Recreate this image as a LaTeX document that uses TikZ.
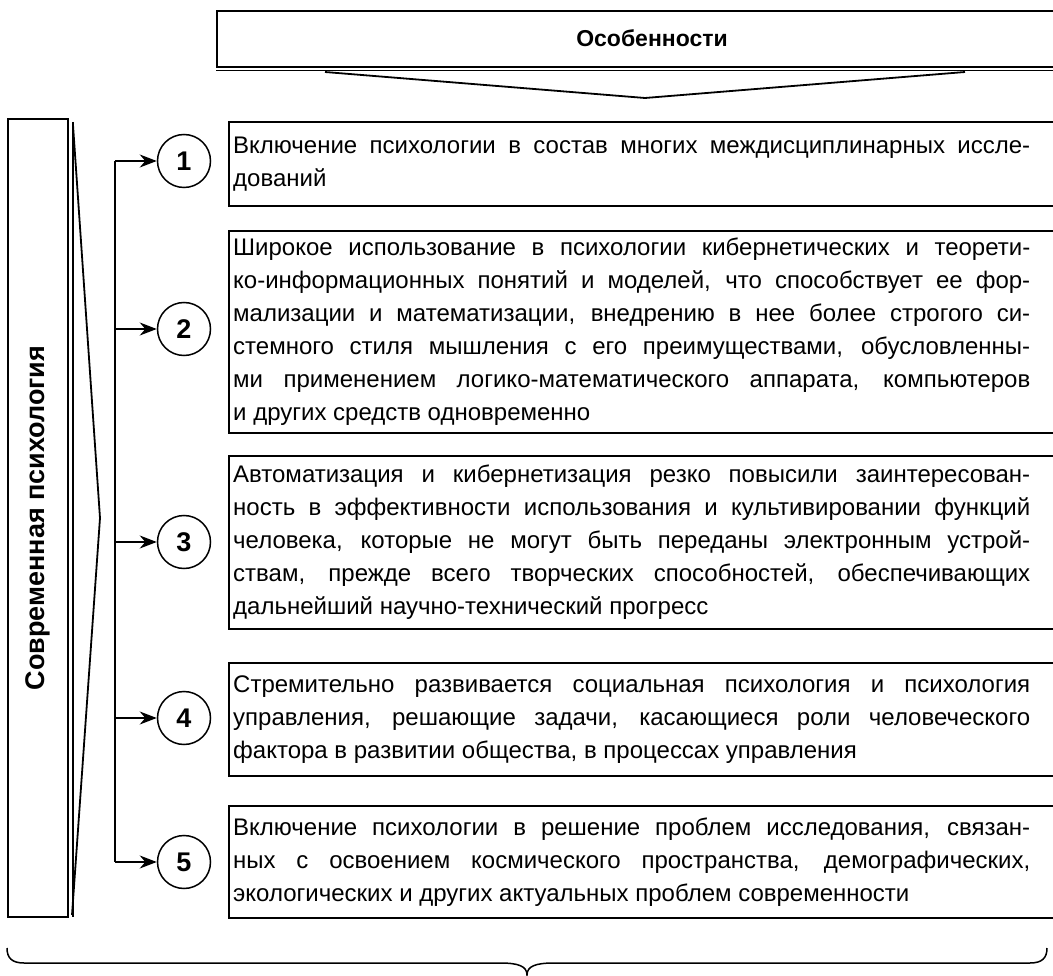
\documentclass[tikz,border=0pt]{standalone}
\usepackage{fontspec}
\setmainfont{Liberation Sans}
\usetikzlibrary{arrows.meta}
\begin{document}
\begin{tikzpicture}[x=1pt,y=-1pt,
  box/.style={draw, line width=1.6pt, rectangle, anchor=north west, inner sep=0, minimum width=850pt},
  txt/.style={anchor=west, text width=797pt, align=justify, inner sep=0,
    font=\fontsize{24}{33}\selectfont, execute at begin node={\tolerance=9999\relax}},
  num/.style={circle, draw, line width=1.5pt, minimum size=53pt, inner sep=0, font=\bfseries\fontsize{27}{27}\selectfont},
  arr/.style={-{Stealth[length=17pt,width=13pt]}, line width=1.4pt},
  thickline/.style={line width=1.5pt}
]
\useasboundingbox (0,0) rectangle (1053,976);

% header
\node[draw, line width=2.2pt, anchor=north west, minimum width=860pt, minimum height=56pt, inner sep=0] (hb) at (216,10) {};
\node[font=\bfseries\fontsize{23}{23}\selectfont] (ht) at (652,38) {Особенности};
\draw[line width=1.2pt] (216,70.5) -- (1060,70.5);
\draw[line width=1.8pt] (325,72) -- (645,98) -- (965,72);

% left box
\node[draw, line width=2pt, minimum width=60pt, minimum height=798pt, inner sep=0] (lb) at (38,518) {};
\node[rotate=90, font=\bfseries\fontsize{27}{27}\selectfont] (lt) at (lb.center) {Современная психология};
\draw[thickline] (73,122) -- (73,917);
\draw[line width=1.8pt] (73,125) -- (100,518) -- (72,915);

% connectors
\coordinate (j1) at (115,161);
\coordinate (j2) at (115,329);
\coordinate (j3) at (115,542);
\coordinate (j4) at (115,718);
\coordinate (j5) at (115,862);
\draw[line width=1.4pt] (j1) -- (j5);

\node[num] (c1) at (184,161) {1};
\node[num] (c2) at (184,329) {2};
\node[num] (c3) at (184,542) {3};
\node[num] (c4) at (184,718) {4};
\node[num] (c5) at (184,862) {5};
\foreach \i in {1,...,5} \draw[arr] (j\i) -- (c\i);

% boxes
\node[box, minimum height=84pt] (b1) at (228,121) {};
\node[box, minimum height=202pt] (b2) at (228,230) {};
\node[box, minimum height=173pt] (b3) at (228,455) {};
\node[box, minimum height=113pt] (b4) at (228,662) {};
\node[box, minimum height=112pt] (b5) at (228,805) {};

\node[txt] (t1) at ([xshift=5pt]b1.west) {Включение психологии в состав многих междисциплинарных иссле-\linebreak дований};
\node[txt] (t2) at ([xshift=5pt]b2.west) {Широкое использование в психологии кибернетических и теорети-\linebreak ко-информационных понятий и моделей, что способствует ее фор-\linebreak мализации и математизации, внедрению в нее более строгого си-\linebreak стемного стиля мышления с его преимуществами, обусловленны-\linebreak ми применением логико-математического аппарата, компьютеров\linebreak и других средств одновременно};
\node[txt] (t3) at ([xshift=5pt]b3.west) {Автоматизация и кибернетизация резко повысили заинтересован-\linebreak ность в эффективности использования и культивировании функций\linebreak человека, которые не могут быть переданы электронным устрой-\linebreak ствам, прежде всего творческих способностей, обеспечивающих\linebreak дальнейший научно-технический прогресс};
\node[txt] (t4) at ([xshift=5pt]b4.west) {Стремительно развивается социальная психология и психология\linebreak управления, решающие задачи, касающиеся роли человеческого\linebreak фактора в развитии общества, в процессах управления};
\node[txt] (t5) at ([xshift=5pt]b5.west) {Включение психологии в решение проблем исследования, связан-\linebreak ных с освоением космического пространства, демографических,\linebreak экологических и других актуальных проблем современности};

% bottom brace
\draw[thickline] (7,948) .. controls (7,958) and (12,963) .. (24,963) -- (500,963)
  .. controls (518,963) and (527,966) .. (527,975)
  .. controls (527,966) and (536,963) .. (554,963) -- (1030,963)
  .. controls (1042,963) and (1047,958) .. (1047,948);
\end{tikzpicture}
\end{document}
